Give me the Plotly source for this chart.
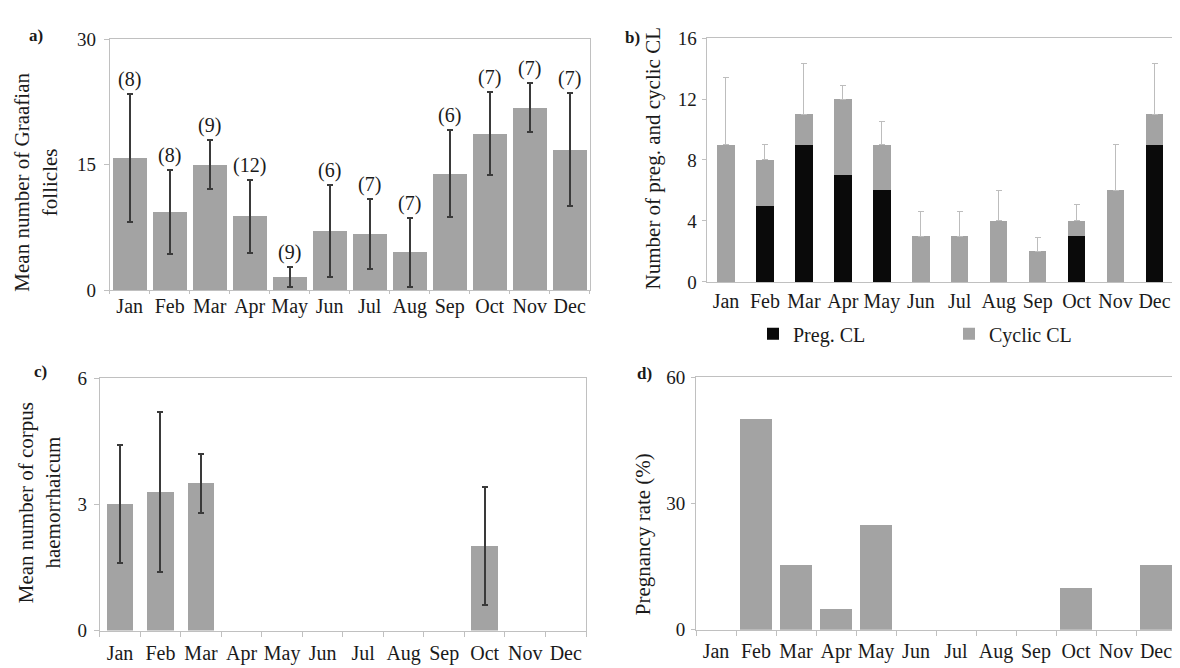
import plotly.graph_objects as go

months = ['Jan', 'Feb', 'Mar', 'Apr', 'May', 'Jun', 'Jul', 'Aug', 'Sep', 'Oct', 'Nov', 'Dec']

# a) Graafian follicles
a_mean = [15.8, 9.3, 15.0, 8.8, 1.6, 7.1, 6.7, 4.5, 13.9, 18.7, 21.8, 16.8]
a_err = [7.6, 5.0, 2.9, 4.4, 1.2, 5.5, 4.2, 4.1, 5.2, 5.0, 2.9, 6.7]
a_n = ['(8)', '(8)', '(9)', '(12)', '(9)', '(6)', '(7)', '(7)', '(6)', '(7)', '(7)', '(7)']

# b) pregnancy and cyclic CL
b_preg = [0, 5, 9, 7, 6, 0, 0, 0, 0, 3, 0, 9]
b_cyclic = [9, 3, 2, 5, 3, 3, 3, 4, 2, 1, 6, 2]
b_err = [4.4, 1.0, 3.3, 0.9, 1.5, 1.6, 1.6, 2.0, 0.9, 1.1, 3.0, 3.3]

# c) corpus haemorrhaicum (None = no corpus haemorrhaicum recorded)
c_mean = [3.0, 3.3, 3.5, None, None, None, None, None, None, 2.0, None, None]
c_err = [1.4, 1.9, 0.7, None, None, None, None, None, None, 1.4, None, None]

# d) pregnancy rate
d_rate = [0, 50, 15.5, 5, 25, 0, 0, 0, 0, 10, 0, 15.5]

W, H = 1180, 668
FONT = 'Liberation Serif, Times New Roman, serif'
GREY = '#a3a3a3'
LINE = '#c0c0c0'
TXT = '#1a1a1a'


def px_x(p):
    return p / W


def px_y(p):
    return 1 - p / H


fig = go.Figure()

fig.add_trace(go.Bar(
    x=months, y=a_mean, width=0.85, marker=dict(color=GREY, line=dict(width=0)),
    error_y=dict(type='data', array=a_err, visible=True, color='#3a3a3a', thickness=2, width=3),
    xaxis='x', yaxis='y', showlegend=False, hoverinfo='skip'))

fig.add_trace(go.Bar(
    x=months, y=b_preg, width=0.45, name='Preg. CL', marker=dict(color='#0a0a0a', line=dict(width=0)),
    xaxis='x2', yaxis='y2', showlegend=True, hoverinfo='skip'))
fig.add_trace(go.Bar(
    x=months, y=b_cyclic, width=0.45, name='Cyclic CL', marker=dict(color=GREY, line=dict(width=0)),
    error_y=dict(type='data', array=b_err, arrayminus=[0] * 12, symmetric=False, visible=True,
                 color='#bdbdbd', thickness=1, width=3),
    xaxis='x2', yaxis='y2', showlegend=True, hoverinfo='skip'))

fig.add_trace(go.Bar(
    x=months, y=c_mean, width=0.66, marker=dict(color=GREY, line=dict(width=0)),
    error_y=dict(type='data', array=c_err, visible=True, color='#3a3a3a', thickness=2, width=3),
    xaxis='x3', yaxis='y3', showlegend=False, hoverinfo='skip'))

fig.add_trace(go.Bar(
    x=months, y=d_rate, width=0.82, marker=dict(color=GREY, line=dict(width=0)),
    xaxis='x4', yaxis='y4', showlegend=False, hoverinfo='skip'))


def xax(domain, anchor, ticks=True, ticklen=5, standoff=0):
    return dict(domain=domain, anchor=anchor, type='category', categoryorder='array',
                categoryarray=months, showgrid=False, showline=True, linecolor=LINE,
                linewidth=1, mirror=True, tickson='boundaries', tickangle=0,
                ticks='outside' if ticks else '', ticklen=ticklen, tickcolor=LINE,
                ticklabelstandoff=standoff,
                tickfont=dict(family=FONT, size=20, color=TXT), zeroline=False, fixedrange=True)


def yax(domain, anchor, rng, tickvals, ticklen=5, standoff=3):
    return dict(domain=domain, anchor=anchor, range=rng, tickvals=tickvals, showgrid=False,
                showline=True, linecolor=LINE, linewidth=1, mirror=True, ticks='outside',
                ticklen=ticklen, tickcolor=LINE, ticklabelstandoff=standoff,
                tickfont=dict(family=FONT, size=19, color=TXT), zeroline=False, fixedrange=True)


layout = dict(
    width=W, height=H, margin=dict(l=0, r=0, t=0, b=0),
    paper_bgcolor='white', plot_bgcolor='white', barmode='stack',
    font=dict(family=FONT, color=TXT),
    xaxis=xax([px_x(101.7), px_x(581.7)], 'y', ticklen=3, standoff=-2),
    yaxis=yax([px_y(281), px_y(21.7)], 'x', [0, 30], [0, 15, 30], standoff=4),
    xaxis2=xax([px_x(698.5), px_x(1166)], 'y2', ticks=False, standoff=1),
    yaxis2=yax([px_y(272.5), px_y(20.7)], 'x2', [0, 16], [0, 4, 8, 12, 16], ticklen=4, standoff=1),
    xaxis3=xax([px_x(91.7), px_x(578)], 'y3', standoff=4),
    yaxis3=yax([px_y(632.5), px_y(371.7)], 'x3', [0, 6], [0, 3, 6], standoff=3),
    xaxis4=xax([px_x(688), px_x(1168)], 'y4', standoff=3),
    yaxis4=yax([px_y(631.7), px_y(370.7)], 'x4', [0, 60], [0, 30, 60], ticklen=4, standoff=2),
    legend=dict(orientation='h', x=px_x(745), y=px_y(326), xanchor='left', yanchor='middle',
                entrywidth=151, entrywidthmode='pixels', traceorder='normal',
                font=dict(family=FONT, size=20, color=TXT), bgcolor='rgba(0,0,0,0)', itemclick=False),
)
fig.update_layout(**layout)

annotations = []
# counts above error bars in panel a
for m, v, e, n in zip(months, a_mean, a_err, a_n):
    annotations.append(dict(x=m, y=v + e, xref='x', yref='y', text=n, showarrow=False,
                            yanchor='bottom', yshift=1, font=dict(family=FONT, size=20, color=TXT)))

title_font = dict(family=FONT, size=21, color=TXT)
annotations += [
    dict(x=px_x(28), y=px_y(170), xref='paper', yref='paper', text='Mean number of Graafian<br>follicles',
         textangle=-90, showarrow=False, xanchor='center', yanchor='middle', font=title_font),
    dict(x=px_x(645), y=px_y(145), xref='paper', yref='paper', text='Number of preg. and cyclic CL',
         textangle=-90, showarrow=False, xanchor='center', yanchor='middle', font=title_font),
    dict(x=px_x(31), y=px_y(501), xref='paper', yref='paper', text='Mean number of corpus<br>haemorrhaicum',
         textangle=-90, showarrow=False, xanchor='center', yanchor='middle', font=title_font),
    dict(x=px_x(635), y=px_y(533), xref='paper', yref='paper', text='Pregnancy rate (%)',
         textangle=-90, showarrow=False, xanchor='center', yanchor='middle', font=title_font),
]
lab_font = dict(family=FONT, size=17, color=TXT)
for t, x, y in [('a)', 28, 18), ('b)', 624, 20), ('c)', 32, 365), ('d)', 636, 367)]:
    annotations.append(dict(x=px_x(x), y=px_y(y), xref='paper', yref='paper', text='<b>%s</b>' % t,
                            showarrow=False, xanchor='center', yanchor='middle', font=lab_font))
fig.update_layout(annotations=annotations)

fig.write_html('out.html')
